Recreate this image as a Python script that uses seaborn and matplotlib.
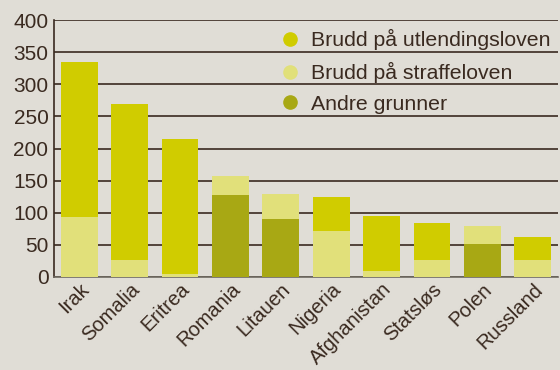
import matplotlib
matplotlib.use("Agg")
import matplotlib.pyplot as plt
from matplotlib.lines import Line2D
import numpy as np
import pandas as pd
import seaborn as sns

countries = ["Irak", "Somalia", "Eritrea", "Romania", "Litauen",
             "Nigeria", "Afghanistan", "Statsløs", "Polen", "Russland"]
andre_grunner = [0, 0, 0, 127, 91, 0, 0, 0, 52, 0]
straffeloven = [93, 26, 4, 30, 38, 71, 10, 26, 27, 27]
utlendingsloven = [242, 244, 211, 0, 0, 53, 85, 58, 0, 35]

series_labels = ["Brudd på utlendingsloven", "Brudd på straffeloven", "Andre grunner"]
y_ticks = [0, 50, 100, 150, 200, 250, 300, 350, 400]

bg = "#E0DDD6"
ink = "#3A2A20"
col_utl = "#D0CC00"
col_straff = "#E1E07A"
col_andre = "#A8A814"

sns.set_theme(style="white")
plt.rcParams["font.family"] = ["Liberation Sans", "DejaVu Sans"]

df = pd.DataFrame({
    "land": countries,
    "andre": andre_grunner,
    "straff": straffeloven,
    "utl": utlendingsloven,
})
df["b_straff"] = df["andre"]
df["b_utl"] = df["andre"] + df["straff"]

fig = plt.figure(figsize=(5.6, 3.7), dpi=100, facecolor=bg)
ax = fig.add_axes([54 / 560, 1 - 277 / 370, 504 / 560, 257 / 370])
ax.set_facecolor(bg)

ax.set_ylim(0, 400)
ax.set_yticks(y_ticks)
ax.grid(axis="y", color=ink, linewidth=1.2, zorder=0)
ax.set_axisbelow(True)

w = 0.73
bar_kw = dict(width=w, saturation=1, linewidth=0, edgecolor="none", ax=ax, zorder=3)
sns.barplot(data=df, x="land", y="andre", color=col_andre, **bar_kw)
sns.barplot(data=df, x="land", y="straff", bottom=df["b_straff"], color=col_straff, **bar_kw)
sns.barplot(data=df, x="land", y="utl", bottom=df["b_utl"], color=col_utl, **bar_kw)

ax.set_xlim(-0.5, len(countries) - 0.5)
ax.set_xlabel("")
ax.set_ylabel("")
for s in ["top", "right"]:
    ax.spines[s].set_visible(False)
ax.spines["left"].set_color(ink)
ax.spines["left"].set_linewidth(1.2)
ax.spines["bottom"].set_color("#6F6A62")
ax.spines["bottom"].set_linewidth(1.2)

ax.tick_params(axis="both", length=0, colors=ink)
ax.tick_params(axis="y", pad=4, labelsize=15)
ax.tick_params(axis="x", pad=2, labelsize=14.5)
plt.setp(ax.get_xticklabels(), rotation=45, ha="right", rotation_mode="anchor")

handles = [Line2D([], [], marker="o", linestyle="", markersize=9.5, color=c)
           for c in (col_utl, col_straff, col_andre)]
ax.legend(handles, series_labels, loc="upper left", bbox_to_anchor=(0.437, 0.984),
          frameon=False, fontsize=15.3, labelcolor=ink, handletextpad=0.5,
          labelspacing=0.55, borderaxespad=0.0, borderpad=0.25, handlelength=1.0)

fig.savefig("out.png", dpi=100, facecolor=bg)
